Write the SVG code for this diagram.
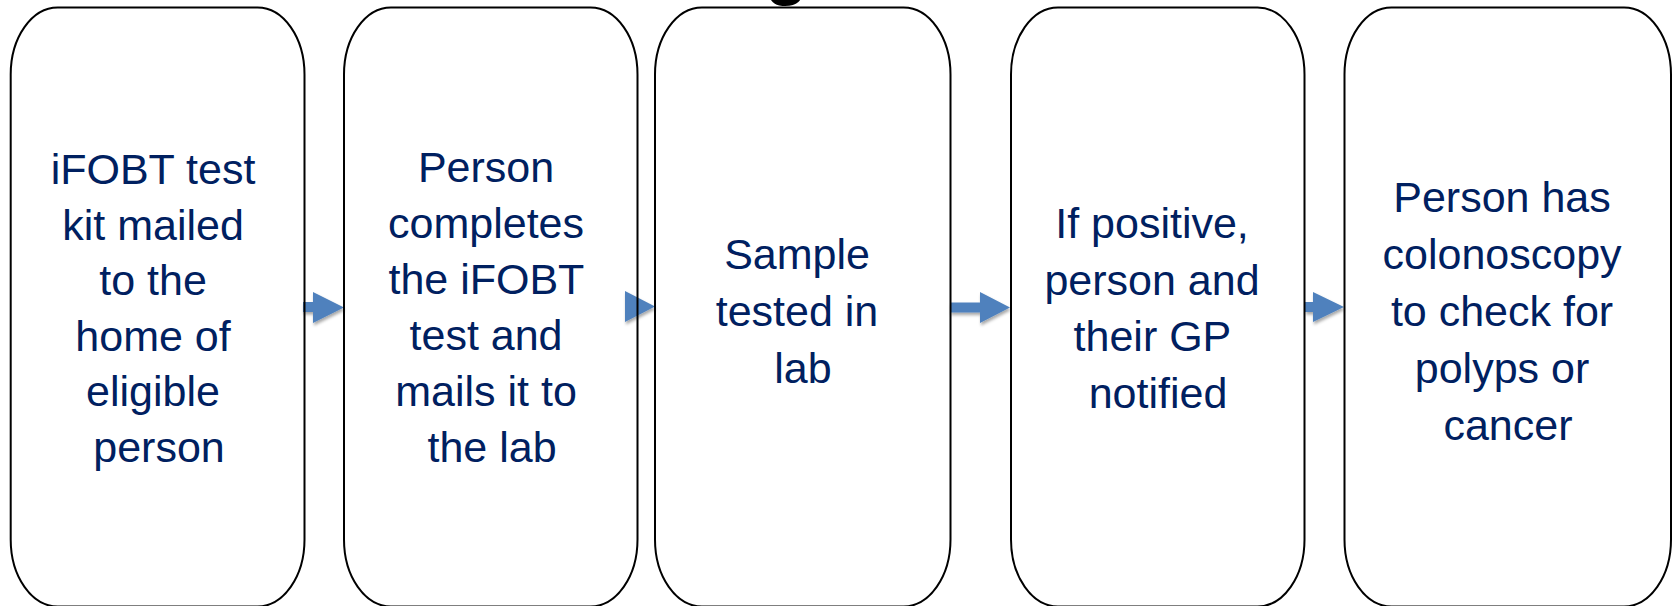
<svg xmlns="http://www.w3.org/2000/svg" width="1675" height="606" viewBox="0 0 1675 606">
  <style>
    .box { fill: none; stroke: #000; stroke-width: 2; }
    .lbl { font-family: "Liberation Sans", Arial, sans-serif; font-size: 43px; fill: #002060; text-anchor: middle; }
    .arr { fill: #4F81BD; filter: url(#sh); }
    .ttl { font-family: "Liberation Sans", Arial, sans-serif; font-weight: bold; font-size: 70px; fill: #000; }
  </style>
  <defs>
    <filter id="sh" x="-30%" y="-30%" width="160%" height="180%">
      <feDropShadow dx="1" dy="2.5" stdDeviation="1.5" flood-color="#000" flood-opacity="0.35"/>
    </filter>
  </defs>
  <rect width="1675" height="606" fill="#fff"/>
  <text class="ttl" x="765" y="-9">g</text>

  <g id="connectors">
    <polygon class="arr" points="303,302 313,302 313,292 344,307.5 313,323 313,312 303,312"/>
    <polygon class="arr" points="625,291 655,306.5 625,322"/>
    <polygon class="arr" points="950,302.5 980,302.5 980,292 1010,307.5 980,323 980,312.5 950,312.5"/>
    <polygon class="arr" points="1305,302 1313,302 1313,292 1344,307 1313,322 1313,312 1305,312"/>
  </g>

  <g id="node1">
    <rect class="box" x="10.7" y="7.5" width="293.8" height="599" rx="47" ry="67"/>
    <text class="lbl">
      <tspan x="159" y="184">iFOBT test</tspan>
      <tspan x="159" y="239.5">kit mailed</tspan>
      <tspan x="159" y="295">to the</tspan>
      <tspan x="159" y="350.5">home of</tspan>
      <tspan x="159" y="406">eligible</tspan>
      <tspan x="159" y="461.5">person</tspan>
    </text>
  </g>

  <g id="node2">
    <rect class="box" x="344" y="7.5" width="293.5" height="599" rx="47" ry="67"/>
    <text class="lbl">
      <tspan x="492" y="182">Person</tspan>
      <tspan x="492" y="238">completes</tspan>
      <tspan x="492" y="294">the iFOBT</tspan>
      <tspan x="492" y="350">test and</tspan>
      <tspan x="492" y="406">mails it to</tspan>
      <tspan x="492" y="462">the lab</tspan>
    </text>
  </g>

  <g id="node3">
    <rect class="box" x="655" y="7.5" width="295.5" height="599" rx="47" ry="67"/>
    <text class="lbl">
      <tspan x="803" y="269">Sample</tspan>
      <tspan x="803" y="326">tested in</tspan>
      <tspan x="803" y="383">lab</tspan>
    </text>
  </g>

  <g id="node4">
    <rect class="box" x="1011" y="7.5" width="293.5" height="599" rx="47" ry="67"/>
    <text class="lbl">
      <tspan x="1158" y="238">If positive,</tspan>
      <tspan x="1158" y="294.5">person and</tspan>
      <tspan x="1158" y="351">their GP</tspan>
      <tspan x="1158" y="407.5">notified</tspan>
    </text>
  </g>

  <g id="node5">
    <rect class="box" x="1344.5" y="7.5" width="326.5" height="599" rx="47" ry="67"/>
    <text class="lbl">
      <tspan x="1508" y="212">Person has</tspan>
      <tspan x="1508" y="269">colonoscopy</tspan>
      <tspan x="1508" y="326">to check for</tspan>
      <tspan x="1508" y="383">polyps or</tspan>
      <tspan x="1508" y="440">cancer</tspan>
    </text>
  </g>
</svg>
